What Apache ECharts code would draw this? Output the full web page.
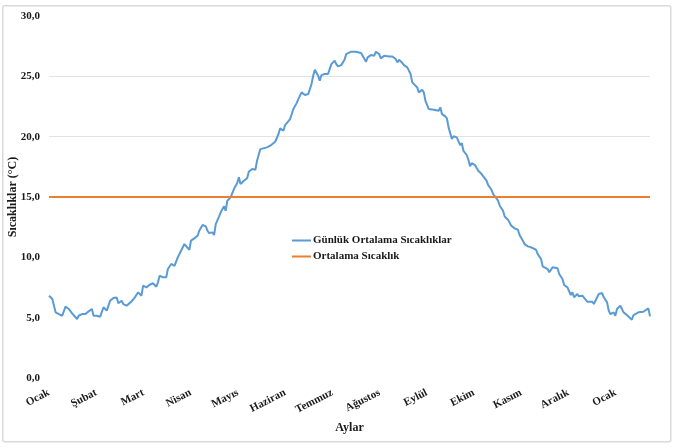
<!DOCTYPE html>
<html>
<head>
<meta charset="utf-8">
<script src="https://cdn.jsdelivr.net/npm/echarts@6/dist/echarts.min.js"></script>
<style>
html,body{margin:0;padding:0;background:#fff;}
#chart{width:676px;height:448px;}
</style>
</head>
<body>
<div id="chart"></div>
<script>
const months = ['Ocak','Şubat','Mart','Nisan','Mayıs','Haziran','Temmuz','Ağustos','Eylül','Ekim','Kasım','Aralık','Ocak'];
const labelStep = 28.6;
const days = [0,2,3,4,6,7,8,10,12,14,15,17,18,20,21,22,24,26,27,29,31,33,34,35,37,39,41,42,44,45,47,50,52,53,54,56,57,59,61,63,64,65,66,67,69,71,72,74,76,78,80,82,83,85,86,88,90,91,93,95,96,97,99,100,101,103,104,106,107,108,110,111,112,114,115,116,118,120,121,123,125,126,128,129,132,134,135,137,139,140,142,143,144,146,147,148,150,151,152,153,155,157,158,159,160,161,162,163,164,165,167,169,170,171,173,174,175,177,179,180,181,183,184,186,187,189,190,192,193,195,197,198,200,201,203,204,206,208,210,211,212,214,215,217,218,219,220,221,223,224,226,227,228,230,231,233,234,236,237,238,240,241,242,244,245,247,248,249,250,251,253,254,255,256,258,259,260,262,263,265,266,268,269,271,272,273,275,276,278,279,280,282,284,285,287,288,290,292,293,295,296,298,299,300,302,303,305,306,308,309,311,312,314,316,317,318,320,321,323,324,326,327,329,330,332,333,335,336,338,339,340,342,343,344,346,347,348,350,351,353,354,355,357,358,360,361,363,364];
const dailyTemp = [6.82,6.55,5.99,5.44,5.30,5.44,5.16,5.91,5.72,5.36,5.44,4.89,5.16,5.30,5.44,5.30,5.52,5.72,5.16,5.16,5.08,5.86,5.99,5.58,6.40,6.63,6.68,6.19,6.40,6.13,5.99,6.35,6.68,6.82,7.10,6.82,7.65,7.51,7.73,7.85,7.93,7.56,7.93,8.48,8.34,8.34,9.03,9.45,9.30,10.00,10.55,11.10,10.96,10.63,11.38,11.57,11.79,12.20,12.68,12.57,12.20,12.01,12.07,11.85,12.76,13.40,13.73,14.23,13.86,14.69,14.97,15.10,15.66,16.16,16.63,16.07,16.35,16.55,17.09,17.32,17.26,18.00,18.97,19.11,19.11,19.25,19.11,19.58,20.22,20.69,20.49,20.96,21.04,21.46,21.87,22.29,22.78,23.11,23.26,23.67,23.45,23.53,23.94,24.36,25.05,25.54,25.46,25.05,24.63,25.10,25.19,25.19,25.60,26.01,26.29,26.01,25.83,25.93,26.37,26.84,26.98,27.04,27.20,27.04,27.12,26.93,26.84,26.21,26.57,26.76,26.71,27.04,26.84,26.49,26.71,26.57,26.65,26.65,26.43,26.16,26.37,26.10,25.93,25.74,25.60,25.19,24.50,24.36,24.08,23.67,23.89,23.67,22.97,22.29,22.43,22.23,22.29,22.15,22.43,21.87,21.68,21.51,20.77,19.80,20.03,19.94,19.80,19.30,19.47,18.83,18.48,18.09,17.54,17.81,17.65,17.73,17.18,16.90,16.76,16.35,15.99,15.60,15.24,14.89,14.69,14.28,13.86,13.38,13.12,13.03,12.62,12.40,12.29,11.85,11.38,11.10,10.91,10.83,10.91,10.63,10.27,9.86,9.25,9.36,9.03,8.76,9.17,9.03,9.09,8.62,8.20,7.71,7.51,6.88,7.10,6.69,6.96,6.77,6.82,6.77,6.32,6.21,6.32,6.13,6.69,6.96,7.04,6.69,6.27,5.58,5.30,5.44,5.16,5.72,5.99,5.72,5.44,5.22,5.16,4.83,5.22,5.16,5.44,5.30,5.49,5.44,5.77,5.11];
const avgTemp = 15.0;
const firstDay = 0, lastDay = 364;

const font = "'Liberation Serif', 'Times New Roman', serif";
const chart = echarts.init(document.getElementById('chart'), null, {renderer: 'canvas'});
chart.setOption({
  animation: false,
  backgroundColor: '#ffffff',
  graphic: [{
    type: 'rect', left: 2, top: 5, z: -10,
    shape: {width: 668, height: 436, r: 2},
    style: {fill: '#ffffff', stroke: '#d9d9d9', lineWidth: 1.5}
  }],
  grid: {left: 49, right: 26, top: 16, bottom: 70, containLabel: false, outerBoundsMode: 'none'},
  legend: {
    orient: 'vertical', left: 287, top: 230,
    icon: 'rect', itemWidth: 19, itemHeight: 2, itemGap: 5,
    textStyle: {fontFamily: font, fontWeight: 'bold', fontSize: 11, color: '#1a1a1a', padding: [0, 0, 0, -3]},
    data: ['Günlük Ortalama Sıcaklıklar', 'Ortalama Sıcaklık']
  },
  xAxis: {
    type: 'value', min: firstDay, max: lastDay, interval: labelStep,
    name: 'Aylar', nameLocation: 'middle', nameGap: 44, nameMoveOverlap: false,
    nameTextStyle: {fontFamily: font, fontWeight: 'bold', fontSize: 12, color: '#1a1a1a'},
    axisLine: {show: false}, axisTick: {show: false}, splitLine: {show: false},
    axisLabel: {
      rotate: 27, margin: 14, showMaxLabel: false,
      fontFamily: font, fontWeight: 'bold', fontSize: 11, color: '#1a1a1a',
      formatter: function (v) {
        const i = Math.round(v / labelStep);
        if (Math.abs(v - i * labelStep) < 0.05 && i < months.length) return months[i];
        return '';
      }
    }
  },
  yAxis: {
    type: 'value', min: 0, max: 30, interval: 5,
    name: 'Sıcaklıklar (°C)', nameLocation: 'middle', nameGap: 30, nameRotate: 90, nameMoveOverlap: false,
    nameTextStyle: {fontFamily: font, fontWeight: 'bold', fontSize: 12, color: '#1a1a1a'},
    axisLine: {show: false}, axisTick: {show: false},
    splitLine: {show: true, lineStyle: {width: 1, color: ['rgba(0,0,0,0)','rgba(0,0,0,0)','rgba(0,0,0,0)','#e3e3e3','#e3e3e3','#e3e3e3','rgba(0,0,0,0)']}},
    axisLabel: {
      margin: 9, fontFamily: font, fontWeight: 'bold', fontSize: 11, color: '#1a1a1a',
      formatter: function (v) { return v.toFixed(1).replace('.', ','); }
    }
  },
  series: [
    {
      name: 'Günlük Ortalama Sıcaklıklar', type: 'line', symbol: 'none', smooth: false,
      lineStyle: {color: '#5B9BD5', width: 2}, itemStyle: {color: '#5B9BD5'},
      data: days.map((d, i) => [d, dailyTemp[i]])
    },
    {
      name: 'Ortalama Sıcaklık', type: 'line', symbol: 'none',
      lineStyle: {color: '#ED7D31', width: 2}, itemStyle: {color: '#ED7D31'},
      data: [[firstDay, avgTemp], [lastDay, avgTemp]]
    }
  ]
});
</script>
</body>
</html>
